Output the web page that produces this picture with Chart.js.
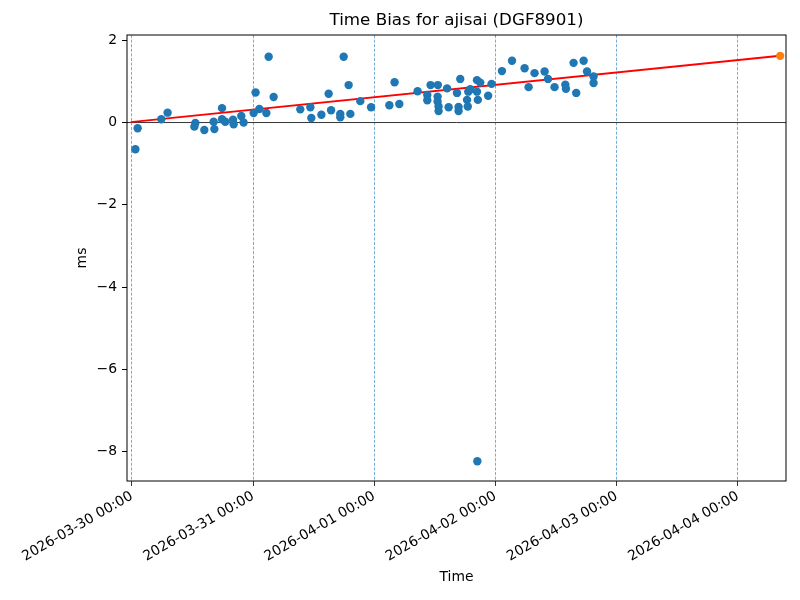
<!DOCTYPE html>
<html>
<head>
<meta charset="utf-8">
<script src="https://cdn.jsdelivr.net/npm/chart.js@4/dist/chart.umd.min.js"></script>
<style>
  body { margin: 0; background: #fff; }
  canvas { display: block; }
</style>
</head>
<body>
<canvas id="biasChart" width="800" height="600"></canvas>
<script>
// time in days since 2026-03-30 00:00, bias in ms
var biasDays = [
    0.029, 0.048, 0.243, 0.295, 0.524, 0.516, 0.598, 0.675, 0.681, 0.744,
    0.744, 0.771, 0.835, 0.840, 0.903, 0.922, 1.005, 1.021, 1.052, 1.110,
    1.129, 1.170, 1.390, 1.473, 1.481, 1.564, 1.624, 1.644, 1.720, 1.720,
    1.748, 1.789, 1.803, 1.885, 1.974, 2.125, 2.168, 2.207, 2.358, 2.438,
    2.438, 2.465, 2.525, 2.523, 2.523, 2.531, 2.531, 2.601, 2.614, 2.683,
    2.696, 2.696, 2.710, 2.766, 2.772, 2.776, 2.793, 2.848, 2.875, 2.848,
    2.855, 2.940, 2.968, 3.054, 3.137, 3.241, 3.274, 3.323, 3.406, 3.434,
    3.488, 3.577, 3.582, 3.645, 3.667, 3.728, 3.756, 3.810, 3.810, 2.851
];
var biasMs = [
    -0.65, -0.14, 0.08, 0.24, -0.01, -0.10, -0.18, 0.02, -0.16, 0.35,
    0.08, 0.02, 0.07, -0.04, 0.16, 0.00, 0.23, 0.73, 0.33, 0.23,
    1.60, 0.62, 0.32, 0.37, 0.11, 0.19, 0.70, 0.30, 0.21, 0.13,
    1.60, 0.91, 0.21, 0.52, 0.37, 0.42, 0.98, 0.45, 0.76, 0.67,
    0.54, 0.91, 0.91, 0.63, 0.51, 0.39, 0.28, 0.83, 0.37, 0.72,
    0.38, 0.28, 1.06, 0.55, 0.39, 0.75, 0.81, 1.03, 0.97, 0.75,
    0.55, 0.65, 0.94, 1.25, 1.50, 1.32, 0.86, 1.20, 1.24, 1.06,
    0.86, 0.92, 0.82, 1.45, 0.72, 1.50, 1.24, 1.12, 0.96, -8.23
];
var trendDays = [-0.01, 5.35];
var trendMs = [0.01, 1.62];
var predictDays = [5.35];
var predictMs = [1.62];

var xTickValues = [0, 1, 2, 3, 4, 5];
var xTickLabels = ['2026-03-30 00:00', '2026-03-31 00:00', '2026-04-01 00:00',
                   '2026-04-02 00:00', '2026-04-03 00:00', '2026-04-04 00:00'];
var yTickValues = [-8, -6, -4, -2, 0, 2];
var xRange = [-0.04, 5.398];
var yRange = [-8.71, 2.127];
var chartTitle = 'Time Bias for ajisai (DGF8901)';

function toPoints(xs, ys) {
    return xs.map(function (x, i) { return { x: x, y: ys[i] }; });
}

Chart.defaults.font.family = 'DejaVu Sans';
Chart.defaults.color = '#000';

// full frame round the plot area, title centred over the axes
var frame = {
    id: 'frame',
    afterDraw: function (chart) {
        var a = chart.chartArea, ctx = chart.ctx;
        ctx.save();
        ctx.strokeStyle = '#000';
        ctx.lineWidth = 1;
        ctx.strokeRect(a.left, a.top, a.right - a.left, a.bottom - a.top);
        ctx.fillStyle = '#000';
        ctx.font = '16.7px "DejaVu Sans"';
        ctx.textAlign = 'center';
        ctx.textBaseline = 'middle';
        ctx.fillText(chartTitle, (a.left + a.right) / 2, 21);
        ctx.restore();
    }
};

new Chart(document.getElementById('biasChart').getContext('2d'), {
    type: 'scatter',
    data: {
        datasets: [{
            data: toPoints(biasDays, biasMs),
            backgroundColor: '#1f77b4',
            pointRadius: 4.2,
            pointBorderWidth: 0,
            order: 2
        }, {
            type: 'line',
            data: toPoints(trendDays, trendMs),
            borderColor: 'red',
            borderWidth: 2,
            pointRadius: 0,
            fill: false,
            order: 3
        }, {
            type: 'line',
            data: toPoints(xRange, [0, 0]),
            borderColor: '#000',
            borderWidth: 0.8,
            pointRadius: 0,
            fill: false,
            order: 4
        }, {
            data: toPoints(predictDays, predictMs),
            backgroundColor: '#ff7f0e',
            pointRadius: 4.2,
            pointBorderWidth: 0,
            order: 1
        }]
    },
    options: {
        responsive: false,
        animation: false,
        layout: { padding: { left: 0, right: 14, top: 35, bottom: 0 } },
        plugins: {
            legend: { display: false },
            tooltip: { enabled: false },
            title: { display: false }
        },
        scales: {
            x: {
                type: 'linear',
                min: xRange[0],
                max: xRange[1],
                afterFit: function (s) { s.height = 119; },
                afterBuildTicks: function (s) {
                    s.ticks = xTickValues.map(function (v) { return { value: v }; });
                },
                ticks: {
                    autoSkip: false,
                    minRotation: 30,
                    maxRotation: 30,
                    padding: 2,
                    font: { size: 13.9 },
                    callback: function (v) { return xTickLabels[xTickValues.indexOf(v)]; }
                },
                grid: {
                    color: 'rgba(31,119,180,0.75)',
                    lineWidth: 0.8,
                    tickColor: '#000',
                    tickLength: 5
                },
                border: { display: false, dash: [3, 1.6] },
                title: {
                    display: true,
                    text: 'Time',
                    font: { size: 13.9 },
                    padding: { top: 0, bottom: 14 }
                }
            },
            y: {
                min: yRange[0],
                max: yRange[1],
                afterFit: function (s) { s.width = 127; },
                afterBuildTicks: function (s) {
                    s.ticks = yTickValues.map(function (v) { return { value: v }; });
                },
                ticks: {
                    padding: 5,
                    font: { size: 13.9 },
                    callback: function (v) { return String(v).replace('-', '\u2212'); }
                },
                grid: {
                    drawOnChartArea: false,
                    tickColor: '#000',
                    tickLength: 5
                },
                border: { display: false },
                title: {
                    display: true,
                    text: 'ms',
                    font: { size: 13.9 },
                    padding: { top: 74, bottom: 0 }
                }
            }
        }
    },
    plugins: [frame]
});
</script>
</body>
</html>
